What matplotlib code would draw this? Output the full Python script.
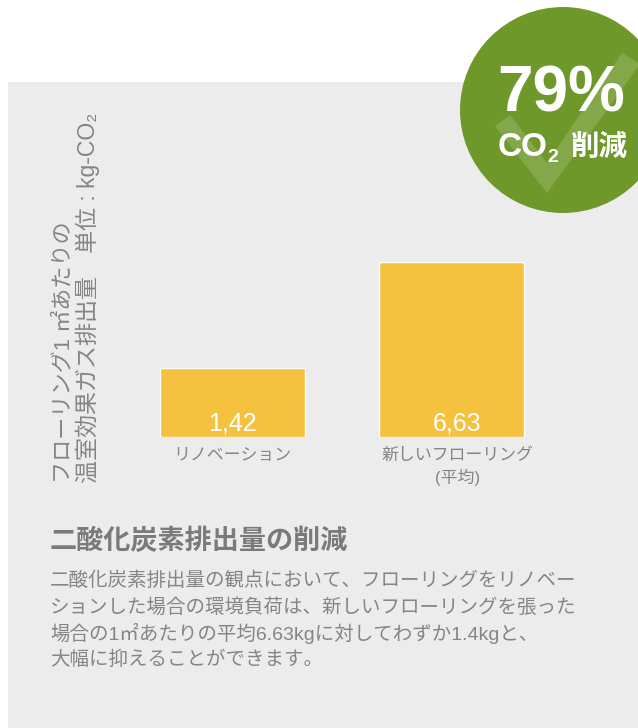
import matplotlib
matplotlib.use('Agg')
import matplotlib.pyplot as plt
from matplotlib.patches import Circle, Polygon, Rectangle
from matplotlib.transforms import ScaledTranslation

plt.rcParams['font.family'] = ['Liberation Sans', 'Noto Sans CJK JP', 'DejaVu Sans']

categories = ['リノベーション', '新しいフローリング\n(平均)']
values = [1.42, 6.63]
value_labels = ['1,42', '6,63']
y_label_1 = 'フローリング1 ㎡あたりの'
y_label_2 = '温室効果ガス排出量　単位 : kg-CO₂'
title = '二酸化炭素排出量の削減'
body = ['二酸化炭素排出量の観点において、フローリングをリノベー',
        'ションした場合の環境負荷は、新しいフローリングを張った',
        '場合の1㎡あたりの平均6.63kgに対してわずか1.4kgと、',
        '大幅に抑えることができます。']
# the bars do not start at zero in the original
baseline = -1.95

GRAY = '#858585'
W, H = 638, 728

fig = plt.figure(figsize=(W / 100, H / 100), dpi=100, facecolor='white')

# background layer in pixels
bg = fig.add_axes([0, 0, 1, 1])
bg.set_xlim(0, W)
bg.set_ylim(H, 0)
bg.axis('off')
bg.add_patch(Rectangle((8, 82), 630, 646, color='#ececec', lw=0))

# bars
ax = fig.add_axes([123 / W, 1 - 436.5 / H, 438 / W, 174.5 / H])
ax.patch.set_alpha(0)
ax.bar(range(2), [v - baseline for v in values], bottom=baseline, width=0.662,
       color='#f4c23e', edgecolor='white', linewidth=1)
ax.set_xlim(-0.5, 1.5)
ax.set_ylim(baseline, values[1])
ax.set_xticks(range(2))
ax.set_xticklabels(categories, fontsize=12.2, color=GRAY, linespacing=1.4)
ax.tick_params(length=0, pad=8)
# second label sits a little right of its bar
lab = ax.get_xticklabels()[1]
lab.set_transform(lab.get_transform() + ScaledTranslation(6 / 100, 0, fig.dpi_scale_trans))
ax.set_yticks([])
for s in ax.spines.values():
    s.set_visible(False)
for i in range(2):
    ax.annotate(value_labels[i], (i, baseline), xytext=(i * 4, 1), textcoords='offset points',
                ha='center', va='bottom', color='white', fontsize=18)

# rotated axis title
bg.text(64, 483, y_label_1, rotation=90, ha='center', va='bottom', fontsize=15.9, color=GRAY)
bg.text(88, 483, y_label_2, rotation=90, ha='center', va='bottom', fontsize=16.6, color=GRAY)

# texts below
bg.text(50, 542, title, fontsize=19.5, fontweight='bold', color='#7a7a7a', va='center')
for i, line in enumerate(body):
    bg.text(50, 581 + i * 26.2, line, fontsize=14, color=GRAY, va='center')

# badge
over = fig.add_axes([0, 0, 1, 1])
over.set_xlim(0, W)
over.set_ylim(H, 0)
over.axis('off')
over.patch.set_alpha(0)
c = Circle((563, 110), 103, color='#6f982b', lw=0)
over.add_patch(c)
check = Polygon([(622, 53), (640, 64), (547, 193), (495, 126), (510, 115), (547, 163)],
                closed=True, color='white', alpha=0.15, lw=0)
over.add_patch(check)
check.set_clip_path(c)
over.text(561, 95, '79%', fontsize=46, fontweight='bold', color='white', ha='center', va='center')
over.text(498, 147, 'CO', fontsize=24, fontweight='bold', color='white', va='center')
over.text(547, 157, '2', fontsize=14, fontweight='bold', color='white', va='center')
over.text(571, 147, '削減', fontsize=20.5, fontweight='bold', color='white', va='center')

fig.savefig('out.png', dpi=100)
